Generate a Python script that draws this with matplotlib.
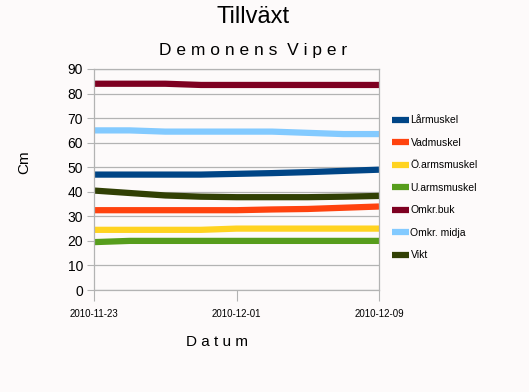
import numpy as np
import matplotlib
matplotlib.use("Agg")
import matplotlib.pyplot as plt

plt.rcParams['font.family'] = ['Liberation Sans', 'DejaVu Sans']

dates = ['2010-11-23', '2010-11-25', '2010-11-27', '2010-11-29', '2010-12-01',
         '2010-12-03', '2010-12-05', '2010-12-07', '2010-12-09']
tick_dates = ['2010-11-23', '2010-12-01', '2010-12-09']

larmuskel = [47, 47, 47, 47, 47.3, 47.6, 48, 48.5, 49]
vadmuskel = [32.5, 32.5, 32.5, 32.5, 32.5, 32.8, 33, 33.5, 34]
o_arm = [24.5, 24.5, 24.5, 24.5, 25, 25, 25, 25, 25]
u_arm = [19.5, 20, 20, 20, 20, 20, 20, 20, 20]
omkr_buk = [84, 84, 84, 83.5, 83.5, 83.5, 83.5, 83.5, 83.5]
omkr_midja = [65, 65, 64.5, 64.5, 64.5, 64.5, 64, 63.5, 63.5]
vikt = [40.5, 39.5, 38.5, 38, 37.8, 37.8, 37.8, 38, 38.3]

series = [
    ('Lårmuskel', larmuskel, '#004586'),
    ('Vadmuskel', vadmuskel, '#ff420e'),
    ('Ö.armsmuskel', o_arm, '#ffd320'),
    ('U.armsmuskel', u_arm, '#579d1c'),
    ('Omkr.buk', omkr_buk, '#7e0021'),
    ('Omkr. midja', omkr_midja, '#83caff'),
    ('Vikt', vikt, '#314004'),
]

d0 = np.datetime64(dates[0])
x = (np.array(dates, dtype='datetime64[D]') - d0).astype(int)
xt = (np.array(tick_dates, dtype='datetime64[D]') - d0).astype(int)

bg = '#fdfafa'
fig = plt.figure(figsize=(5.29, 3.92), dpi=100, facecolor=bg)
ax = fig.add_axes([94/529, 1-290/392, 285/529, 221/392], facecolor=bg)

for name, vals, col in series:
    ax.plot(x, vals, color=col, lw=4.5, label=name, solid_capstyle='butt')

ax.set_xlim(x[0], x[-1])
ax.set_ylim(0, 90)
ax.set_yticks(range(0, 91, 10))
ax.set_xticks(xt)
ax.set_xticklabels(tick_dates, fontsize=7)
ax.tick_params(axis='y', labelsize=10, length=5, color='#b3b3b3', pad=3)
ax.tick_params(axis='x', length=8, color='#b3b3b3', pad=6)
ax.yaxis.grid(True, color='#b3b3b3', lw=0.9)
ax.set_axisbelow(True)
for s in ax.spines.values():
    s.set_color('#b3b3b3')
    s.set_linewidth(0.9)

# axis titles placed like the original
fig.text(24/529, 1-162/392, 'Cm', rotation=90, ha='center', va='center', fontsize=11)
fig.text(217/529, 1-342/392, 'D a t u m', ha='center', va='center', fontsize=11)

fig.text(253/529, 1-17/392, 'Tillväxt', ha='center', va='center', fontsize=17)
fig.text(253/529, 1-50/392, 'D e m o n e n s  V i p e r', ha='center', va='center', fontsize=12.5)

ax.legend(loc='upper left', bbox_to_anchor=(1.03, 0.81), frameon=False, fontsize=7.5,
          handlelength=1.7, handletextpad=0.1, labelspacing=1.2, borderaxespad=0)

fig.savefig('out.png', dpi=100, facecolor=bg)
